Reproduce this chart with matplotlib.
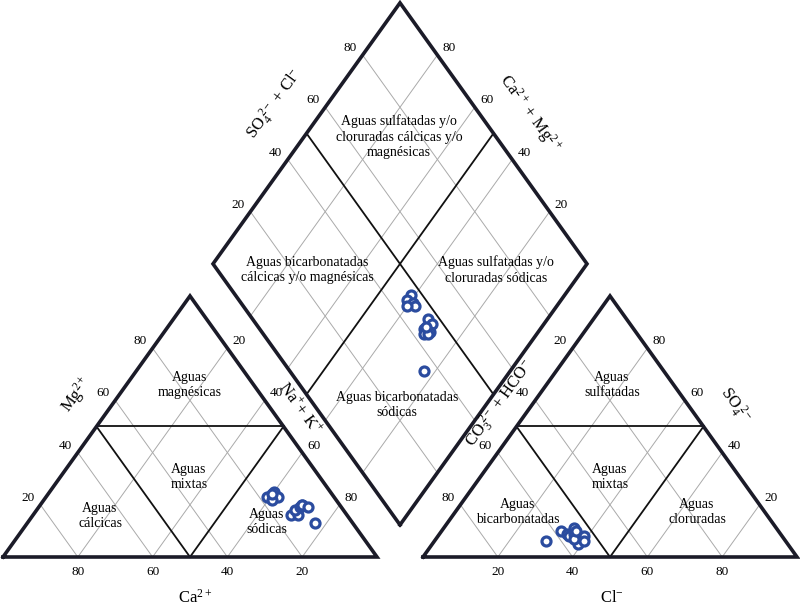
import numpy as np
import matplotlib
matplotlib.use("Agg")
import matplotlib.pyplot as plt

plt.rcParams['font.family'] = ['Liberation Serif', 'DejaVu Serif']
plt.rcParams['mathtext.fontset'] = 'custom'
plt.rcParams['mathtext.rm'] = 'Liberation Serif'
plt.rcParams['mathtext.it'] = 'Liberation Serif:italic'

# triangulo de cationes (%)
cat_ca = [18, 15, 15, 17, 16, 15, 13, 13, 11, 10, 10, 9, 10]
cat_mg = [23, 25, 23, 22, 24, 16, 16, 18, 19, 20, 20, 19, 13]
cat_na = [59, 60, 62, 61, 60, 69, 71, 69, 70, 70, 70, 72, 77]

# triangulo de aniones (%)
an_hco3 = [58, 57, 57, 54, 55, 55, 54, 53, 56, 56, 54, 54, 64]
an_so4 = [10, 9, 8, 11, 9, 7, 7, 8, 5, 7, 6, 10, 6]
an_cl = [32, 34, 35, 35, 36, 38, 39, 39, 39, 37, 40, 36, 30]

# rombo central (%)
dia_camg = [41, 41, 39, 38, 40, 32, 30, 31, 29, 30, 29, 31, 23]
dia_so4cl = [47, 45, 46, 46, 44, 47, 47, 44, 45, 43, 44, 45, 36]

ticks = [20, 40, 60, 80]

H = np.sqrt(3) / 2
GAP = 0.123
OFF = 1 + GAP

EDGE = '#1b1b28'
GRID = '#aaaaaa'
BLUE = '#2b4c9f'


def tern(right, top, x0=0.0):
    right = np.asarray(right, float)
    top = np.asarray(top, float)
    return x0 + right + top / 2, top * H


def rombo(a, b):
    a = np.asarray(a, float)
    b = np.asarray(b, float)
    return 1 + GAP / 2 + 0.5 * (b - a), GAP * H + H * (a + b)


def px(x, y):
    # posicion de textos en pixeles de la imagen
    return (x - 3) / 374, (557 - y) / 301.4


def seg(ax, p, q, **kw):
    ax.plot([p[0], q[0]], [p[1], q[1]], **kw)


fig = plt.figure(figsize=(8, 6.07), dpi=100)
ax = fig.add_axes([0, 0, 1, 1])
ax.set_xlim(-3 / 374, 797 / 374)
ax.set_ylim(-50 / 301.4, 557 / 301.4)
ax.axis('off')

gkw = dict(color=GRID, lw=0.7, zorder=1)
dkw = dict(color='#111111', lw=1.3, zorder=2)
okw = dict(color=EDGE, lw=2.6, zorder=3, solid_joinstyle='miter')

# triangulos
for x0 in (0.0, OFF):
    for v in ticks:
        f = v / 100
        seg(ax, tern(f, 0, x0), tern(f, 1 - f, x0), **gkw)
        seg(ax, tern(1 - f, 0, x0), tern(0, 1 - f, x0), **gkw)
    seg(ax, tern(0, 0.5, x0), tern(0.5, 0.5, x0), **dkw)
    seg(ax, tern(0, 0.5, x0), tern(0.5, 0, x0), **dkw)
    seg(ax, tern(0.5, 0, x0), tern(0.5, 0.5, x0), **dkw)
    xs, ys = tern([0, 1, 0, 0], [0, 0, 1, 0], x0)
    ax.plot(xs, ys, **okw)

# rombo
for v in ticks:
    f = v / 100
    seg(ax, rombo(f, 0), rombo(f, 1), **gkw)
    seg(ax, rombo(0, f), rombo(1, f), **gkw)
seg(ax, rombo(0.5, 0), rombo(0.5, 1), **dkw)
seg(ax, rombo(0, 0.5), rombo(1, 0.5), **dkw)
xs, ys = rombo([0, 1, 1, 0, 0], [0, 0, 1, 1, 0])
ax.plot(xs, ys, **okw)

# etiquetas de escala
tk = dict(fontsize=9.5, ha='center', va='center', textcoords='offset points')
for v in ticks:
    f = v / 100
    ax.annotate(str(v), tern(0, f), xytext=(-9, 5), **tk)
    ax.annotate(str(v), tern(f, 1 - f), xytext=(8.5, 5), **tk)
    ax.annotate(str(v), tern(1 - f, 0), xytext=(0, -11), **tk)
    ax.annotate(str(v), tern(0, 1 - f, OFF), xytext=(-9, 5), **tk)
    ax.annotate(str(v), tern(1 - f, f, OFF), xytext=(8.5, 5), **tk)
    ax.annotate(str(v), tern(f, 0, OFF), xytext=(0, -11), **tk)
    ax.annotate(str(v), rombo(1, f), xytext=(-9, 5), **tk)
    ax.annotate(str(v), rombo(f, 1), xytext=(8.5, 5), **tk)

# titulos de ejes
tt = dict(fontsize=12, ha='center', va='center', rotation_mode='anchor')
ax.text(*px(195, 598), 'Ca$^{2+}$', **tt)
ax.text(*px(612, 598), 'Cl$^{-}$', **tt)
ax.text(*px(77, 395), 'Mg$^{2+}$', rotation=54, **tt)
ax.text(*px(300, 408), 'Na$^{+}$+ K$^{+}$', rotation=-54, **tt)
ax.text(*px(275, 104), 'SO$_4^{\\ 2-}$ + Cl$^{-}$', rotation=54, **tt)
ax.text(*px(530, 113), 'Ca$^{2+}$ + Mg$^{2+}$', rotation=-54, **tt)
ax.text(*px(500, 404), 'CO$_3^{\\ 2-}$ + HCO$^{-}$', rotation=54, **tt)
ax.text(*px(735, 406), 'SO$_4^{\\ 2-}$', rotation=-54, **tt)

# nombres de facies
rt = dict(fontsize=10, ha='center', va='center', linespacing=1.25, zorder=4)
ax.text(*px(190, 385), 'Aguas\nmagnésicas', **rt)
ax.text(*px(189, 477), 'Aguas\nmixtas', **rt)
ax.text(*px(100, 516), 'Aguas\ncálcicas', **rt)
ax.text(*px(267, 522), 'Aguas\nsódicas', **rt)
ax.text(*px(612, 385), 'Aguas\nsulfatadas', **rt)
ax.text(*px(610, 477), 'Aguas\nmixtas', **rt)
ax.text(*px(518, 512), 'Aguas\nbicarbonatadas', **rt)
ax.text(*px(697, 512), 'Aguas\ncloruradas', **rt)
ax.text(*px(399, 137), 'Aguas sulfatadas y/o\ncloruradas cálcicas y/o\nmagnésicas', **rt)
ax.text(*px(307, 270), 'Aguas bicarbonatadas\ncálcicas y/o magnésicas', **rt)
ax.text(*px(496, 270), 'Aguas sulfatadas y/o\ncloruradas sódicas', **rt)
ax.text(*px(397, 405), 'Aguas bicarbonatadas\nsódicas', **rt)

# muestras
mk = dict(ls='none', marker='o', ms=6.5, mfc='white', mec=BLUE, mew=2.3, zorder=6)
mg = np.array(cat_mg) / 100
na = np.array(cat_na) / 100
ax.plot(*tern(na, mg), **mk)
so4 = np.array(an_so4) / 100
cl = np.array(an_cl) / 100
ax.plot(*tern(cl, so4, OFF), **mk)
ax.plot(*rombo(np.array(dia_camg) / 100, np.array(dia_so4cl) / 100), **mk)

fig.savefig('out.png', dpi=100)
